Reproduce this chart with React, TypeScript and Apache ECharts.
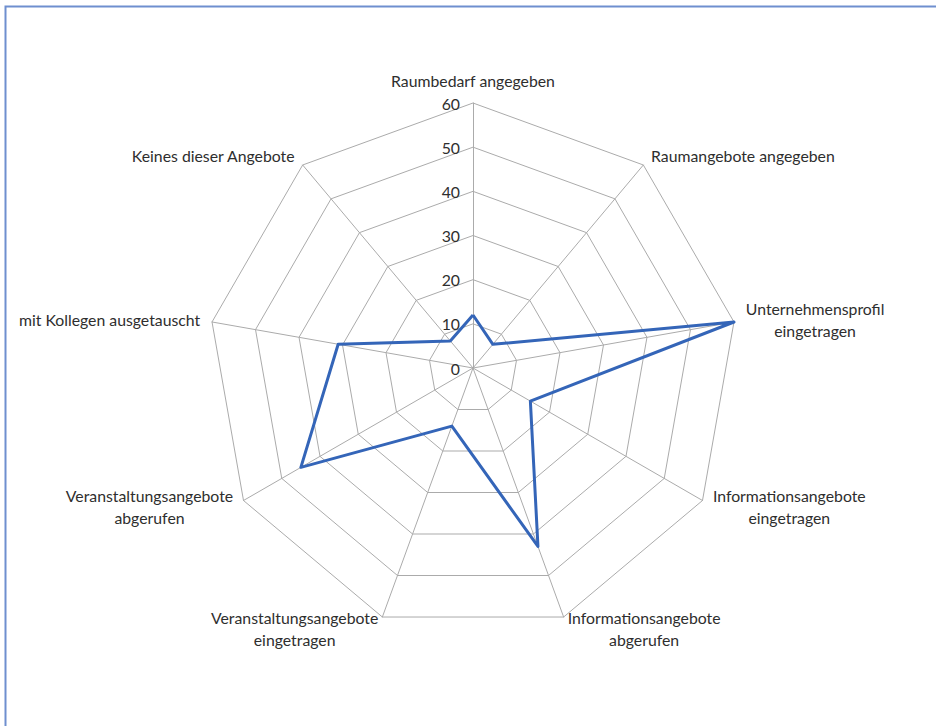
import React, { useEffect, useRef } from 'react';
import * as echarts from 'echarts';

// Axis names in clockwise order, starting at the top
const categories = [
  'Raumbedarf angegeben',
  'Raumangebote angegeben',
  'Unternehmensprofil\neingetragen',
  'Informationsangebote\neingetragen',
  'Informationsangebote\nabgerufen',
  'Veranstaltungsangebote\neingetragen',
  'Veranstaltungsangebote\nabgerufen',
  'mit Kollegen ausgetauscht',
  'Keines dieser Angebote',
];

// Values for each axis, same order as categories
const values = [12, 7, 60, 15, 43, 14, 45, 31, 8];

const axisMax = 60;
const tickCount = 6; // 0, 10, 20 … 60

const FONT = 'Lato, "Open Sans", sans-serif';
const FONT_SIZE = 15.8;
const TEXT_COLOR = '#2e2e2e';
const GRID_COLOR = '#ababab';
const LINE_COLOR = '#3465b8';

export default function App() {
  const ref = useRef<HTMLDivElement>(null);

  useEffect(() => {
    if (!ref.current) return;
    const chart = echarts.init(ref.current, undefined, { renderer: 'svg' });

    // ECharts lays radar indicators out counter-clockwise; reverse the tail
    // so the axes run clockwise from the top.
    const order = [0, ...categories.map((_, i) => i).slice(1).reverse()];

    const indicator = order.map((idx, k) => ({
      name: categories[idx],
      min: 0,
      max: axisMax,
      ...(k === 0
        ? {
            axisLabel: {
              show: true,
              showMinLabel: true,
              showMaxLabel: true,
              margin: 13,
              color: TEXT_COLOR,
              fontFamily: FONT,
              fontSize: FONT_SIZE,
            },
          }
        : {}),
    }));

    chart.setOption({
      animation: false,
      backgroundColor: '#ffffff',
      graphic: [
        {
          type: 'polyline',
          shape: { points: [[5.5, 760], [5.5, 6.5], [960, 6.5]] },
          style: { stroke: '#6f8fcf', lineWidth: 2, fill: 'none' },
          silent: true,
        },
      ],
      radar: {
        center: [473, 368],
        radius: 265,
        startAngle: 90,
        splitNumber: tickCount,
        shape: 'polygon',
        indicator,
        nameGap: 12,
        axisName: {
          color: TEXT_COLOR,
          fontFamily: FONT,
          fontSize: FONT_SIZE,
          lineHeight: 22,
          formatter: (name: string) =>
            name
              .split('\n')
              .map((l) => `{c|${l}}`)
              .join('\n'),
          rich: {
            c: {
              align: 'center',
              color: TEXT_COLOR,
              fontFamily: FONT,
              fontSize: FONT_SIZE,
              lineHeight: 22,
            },
          },
        },
        axisLine: { show: true, lineStyle: { color: GRID_COLOR, width: 1 } },
        axisTick: { show: false },
        axisLabel: { show: false },
        splitLine: { show: true, lineStyle: { color: GRID_COLOR, width: 1 } },
        splitArea: { show: false },
      },
      series: [
        {
          type: 'radar',
          symbol: 'none',
          lineStyle: { color: LINE_COLOR, width: 3 },
          itemStyle: { color: LINE_COLOR },
          data: [{ value: order.map((i) => values[i]) }],
        },
      ],
    });

    return () => chart.dispose();
  }, []);

  return (
    <div
      ref={ref}
      style={{ position: 'fixed', left: 0, top: 0, width: 936, height: 726 }}
    />
  );
}
